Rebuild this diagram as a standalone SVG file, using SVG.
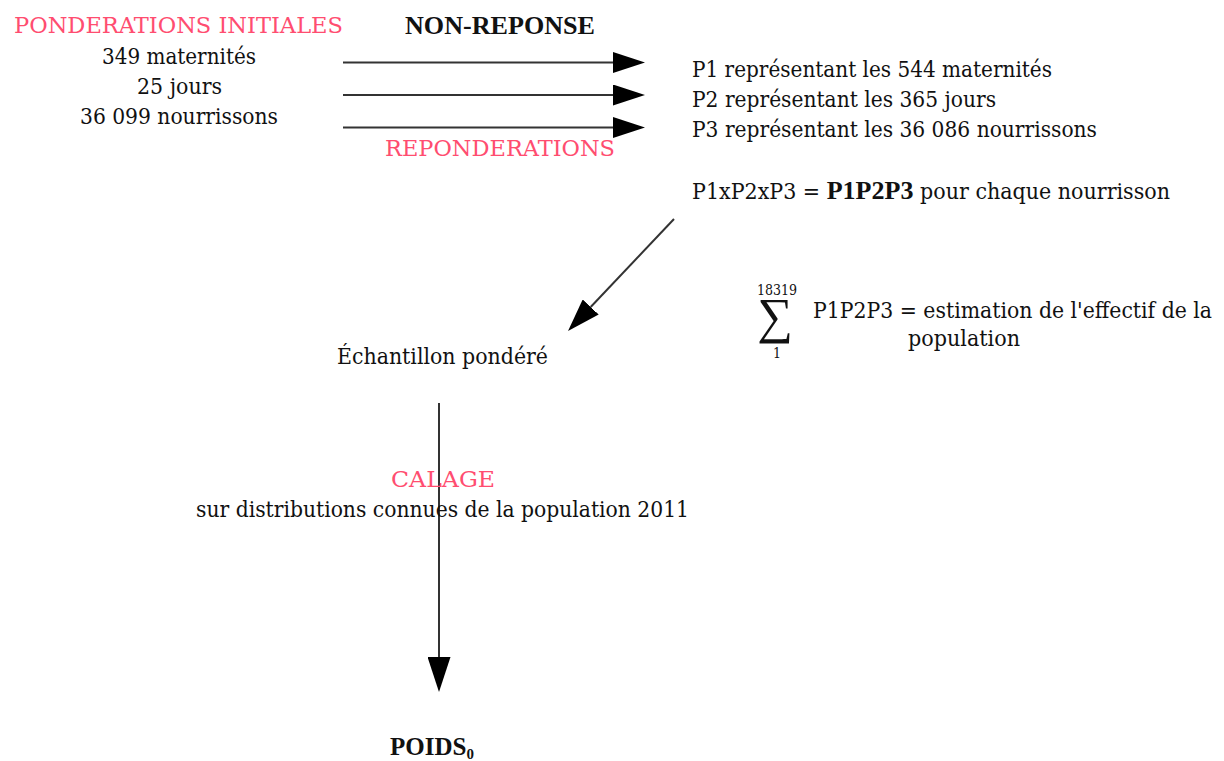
<svg xmlns="http://www.w3.org/2000/svg" width="1224" height="761" viewBox="0 0 1224 761">
<defs>
<style>
text{font-family:"DejaVu Serif Condensed","DejaVu Serif",serif;font-size:22px;fill:#111}
.b{font-family:"Liberation Serif","Times New Roman",serif;font-size:25px;font-weight:bold}
.pink{fill:#ff4d70}
.sm{font-size:14px}
.sub{font-family:"Liberation Serif","Times New Roman",serif;font-size:15px;font-weight:bold;fill:#111}
.sig{font-family:"Liberation Serif","DejaVu Serif",serif;font-size:50px}
.conn line{stroke:#333;stroke-width:2;fill:none}
</style>
<marker id="arrH" markerUnits="userSpaceOnUse" markerWidth="32" markerHeight="21" refX="0" refY="10.5" orient="auto" viewBox="0 0 32 21"><path d="M0,0 L32,10.5 L0,21 z" fill="#000"/></marker>
<marker id="arrD" markerUnits="userSpaceOnUse" markerWidth="33" markerHeight="22" refX="0" refY="11" orient="auto" viewBox="0 0 33 22"><path d="M0,0 L33,11 L0,22 z" fill="#000"/></marker>
<marker id="arrV" markerUnits="userSpaceOnUse" markerWidth="35" markerHeight="23" refX="0" refY="11.5" orient="auto" viewBox="0 0 35 23"><path d="M0,0 L35,11.5 L0,23 z" fill="#000"/></marker>
</defs>
<rect width="1224" height="761" fill="#fff"/>
<g id="connectors" class="conn">
<line x1="343" y1="62.5" x2="613" y2="62.5" marker-end="url(#arrH)"/>
<line x1="343" y1="95" x2="613" y2="95" marker-end="url(#arrH)"/>
<line x1="343" y1="127.5" x2="613" y2="127.5" marker-end="url(#arrH)"/>
<line x1="674" y1="219" x2="590.7" y2="307" marker-end="url(#arrD)"/>
<line x1="439" y1="403" x2="439" y2="657" marker-end="url(#arrV)"/>
</g>
<g id="initial">
<text class="pink" x="14" y="33" textLength="329" lengthAdjust="spacingAndGlyphs">PONDERATIONS INITIALES</text>
<text x="102" y="64" textLength="154" lengthAdjust="spacingAndGlyphs">349 maternités</text>
<text x="137" y="94" textLength="85" lengthAdjust="spacingAndGlyphs">25 jours</text>
<text x="80" y="124" textLength="198" lengthAdjust="spacingAndGlyphs">36 099 nourrissons</text>
</g>
<g id="labels-nonreponse">
<text class="b" x="405" y="34" textLength="190" lengthAdjust="spacingAndGlyphs">NON-REPONSE</text>
<text class="pink" x="385" y="156" textLength="230" lengthAdjust="spacingAndGlyphs">REPONDERATIONS</text>
</g>
<g id="reweighted">
<text x="692" y="77" textLength="360" lengthAdjust="spacingAndGlyphs">P1 représentant les 544 maternités</text>
<text x="692" y="107" textLength="304" lengthAdjust="spacingAndGlyphs">P2 représentant les 365 jours</text>
<text x="692" y="137" textLength="405" lengthAdjust="spacingAndGlyphs">P3 représentant les 36 086 nourrissons</text>
<text x="692" y="199" textLength="478" lengthAdjust="spacingAndGlyphs">P1xP2xP3 = <tspan class="b">P1P2P3</tspan> pour chaque nourrisson</text>
</g>
<g id="sum">
<text class="sm" x="777" y="295" text-anchor="middle">18319</text>
<text class="sig" x="775" y="333" text-anchor="middle">∑</text>
<text class="sm" x="777" y="358" text-anchor="middle">1</text>
<text x="813" y="318" textLength="399" lengthAdjust="spacingAndGlyphs">P1P2P3 = estimation de l'effectif de la</text>
<text x="908" y="346" textLength="112" lengthAdjust="spacingAndGlyphs">population</text>
</g>
<g id="echantillon">
<text x="337" y="364" textLength="211" lengthAdjust="spacingAndGlyphs">Échantillon pondéré</text>
</g>
<g id="calage">
<text class="pink" x="391" y="487" textLength="104" lengthAdjust="spacingAndGlyphs">CALAGE</text>
<text x="196" y="517" textLength="493" lengthAdjust="spacingAndGlyphs">sur distributions connues de la population 2011</text>
</g>
<g id="poids">
<text class="b" x="390" y="755">POIDS<tspan class="sub" dy="4">0</tspan></text>
</g>
</svg>
